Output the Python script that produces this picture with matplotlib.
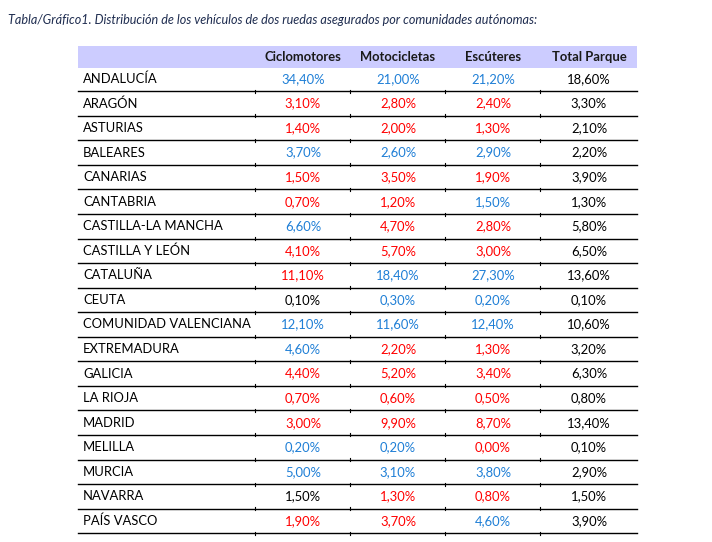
import matplotlib.pyplot as plt

regions = ['ANDALUCÍA', 'ARAGÓN', 'ASTURIAS', 'BALEARES', 'CANARIAS', 'CANTABRIA',
           'CASTILLA-LA MANCHA', 'CASTILLA Y LEÓN', 'CATALUÑA', 'CEUTA',
           'COMUNIDAD VALENCIANA', 'EXTREMADURA', 'GALICIA', 'LA RIOJA', 'MADRID',
           'MELILLA', 'MURCIA', 'NAVARRA', 'PAÍS VASCO']
columns = ['Ciclomotores', 'Motocicletas', 'Escúteres', 'Total Parque']
ciclomotores = [34.4, 3.1, 1.4, 3.7, 1.5, 0.7, 6.6, 4.1, 11.1, 0.1, 12.1, 4.6, 4.4, 0.7, 3.0, 0.2, 5.0, 1.5, 1.9]
motocicletas = [21.0, 2.8, 2.0, 2.6, 3.5, 1.2, 4.7, 5.7, 18.4, 0.3, 11.6, 2.2, 5.2, 0.6, 9.9, 0.2, 3.1, 1.3, 3.7]
escuteres = [21.2, 2.4, 1.3, 2.9, 1.9, 1.5, 2.8, 3.0, 27.3, 0.2, 12.4, 1.3, 3.4, 0.5, 8.7, 0.0, 3.8, 0.8, 4.6]
total = [18.6, 3.3, 2.1, 2.2, 3.9, 1.3, 5.8, 6.5, 13.6, 0.1, 10.6, 3.2, 6.3, 0.8, 13.4, 0.1, 2.9, 1.5, 3.9]

plt.rcParams['font.family'] = 'Lato'
W, H = 712, 542
fig = plt.figure(figsize=(W / 100, H / 100), dpi=100)
ax = fig.add_axes([0, 0, 1, 1])
ax.set_xlim(0, W)
ax.set_ylim(H, 0)
ax.axis('off')

ax.text(8, 20, 'Tabla/Gráfico1. Distribución de los vehículos de dos ruedas asegurados por comunidades autónomas:',
        style='italic', fontsize=9.1, color='#1f2d50', va='center')

x0, x1 = 78, 637
col_x = [303, 398, 493, 589]
ax.fill_between([x0, x1], 46, 68, color='#ccccff', lw=0)
for cx, c in zip(col_x, columns):
    ax.text(cx, 57, c, ha='center', va='center', fontsize=9.4, fontweight='bold', color='#1a1a1a')

y0, dy = 79, 24.55
for i, name in enumerate(regions):
    y = y0 + i * dy
    ax.text(83, y, name, va='center', fontsize=9.4, color='black')
    vals = [ciclomotores[i], motocicletas[i], escuteres[i]]
    for cx, v in zip(col_x[:3], vals):
        if v > total[i]:
            col = '#1f7fd6'
        elif v < total[i]:
            col = '#ff0000'
        else:
            col = 'black'
        ax.text(cx, y, f'{v:.2f}%'.replace('.', ','), ha='center', va='center', fontsize=9.4, color=col)
    ax.text(col_x[3], y, f'{total[i]:.2f}%'.replace('.', ','), ha='center', va='center', fontsize=9.4, color='black')
    ly = y + dy / 2
    ax.plot([x0, x1], [ly, ly], color='black', lw=1)
    for tx in [255, 350, 445, 540]:
        ax.plot([tx, tx], [ly - 1.5, ly + 1.5], color='black', lw=0.8)

fig.savefig('out.png', dpi=100)
